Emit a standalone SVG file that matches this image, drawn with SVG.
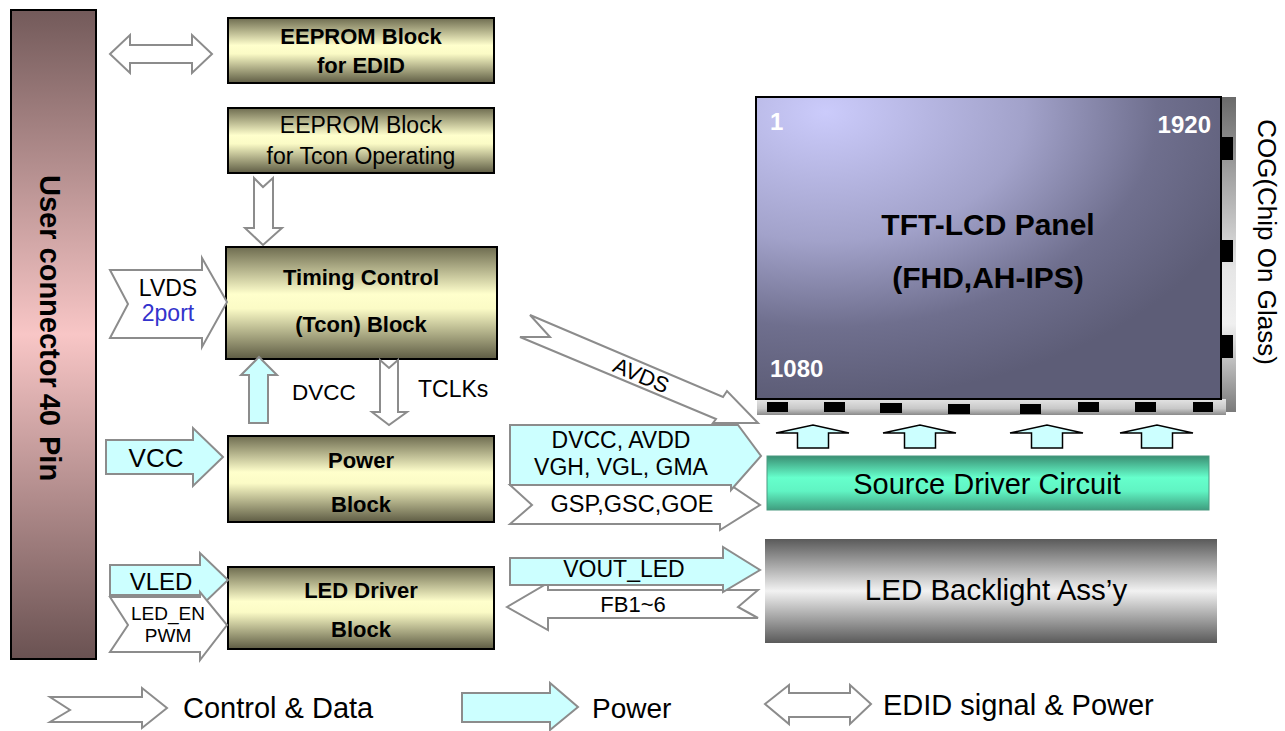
<svg xmlns="http://www.w3.org/2000/svg" width="1285" height="731" viewBox="0 0 1285 731">
<style>
.t{font-family:"Liberation Sans",Arial,sans-serif;fill:#000}
.b{font-weight:bold}
.m{text-anchor:middle}
.w{fill:#fff}
.ctl{fill:#fff;stroke:#8c8c8c;stroke-width:2;stroke-linejoin:miter}
.pwr{fill:#ccffff;stroke:#8c8c8c;stroke-width:2;stroke-linejoin:miter}
.blk{fill:url(#gBlk);stroke:#000;stroke-width:2}
.tab{fill:#000}
.up{fill:#ccffff;stroke:#000;stroke-width:1.5}
</style>
<defs>
<linearGradient id="gBlk" x1="0" y1="0" x2="0" y2="1">
<stop offset="0" stop-color="#6e6c50"/>
<stop offset="0.42" stop-color="#ffffcc"/>
<stop offset="0.55" stop-color="#fbfbc6"/>
<stop offset="1" stop-color="#5e5c44"/>
</linearGradient>
<linearGradient id="gUser" x1="0" y1="0" x2="0" y2="1">
<stop offset="0" stop-color="#735a5a"/>
<stop offset="0.5" stop-color="#f8c6c6"/>
<stop offset="1" stop-color="#6a5252"/>
</linearGradient>
<radialGradient id="gPanel" cx="0.15" cy="0.05" r="0.95">
<stop offset="0" stop-color="#cbcbfb"/>
<stop offset="0.45" stop-color="#a2a2ca"/>
<stop offset="0.75" stop-color="#6f6f8e"/>
<stop offset="1" stop-color="#5d5d77"/>
</radialGradient>
<linearGradient id="gCogR" x1="0" y1="0" x2="0" y2="1">
<stop offset="0" stop-color="#6a6a6a"/>
<stop offset="0.55" stop-color="#e6e6e6"/>
<stop offset="0.72" stop-color="#f0f0f0"/>
<stop offset="1" stop-color="#7a7a7a"/>
</linearGradient>
<linearGradient id="gCogB" x1="0" y1="0" x2="0" y2="1">
<stop offset="0" stop-color="#e4e4e4"/>
<stop offset="0.6" stop-color="#c8c8c8"/>
<stop offset="1" stop-color="#8a8a8a"/>
</linearGradient>
<linearGradient id="gSrc" x1="0" y1="0" x2="0" y2="1">
<stop offset="0" stop-color="#3a8f73"/>
<stop offset="0.4" stop-color="#66ffcc"/>
<stop offset="0.65" stop-color="#60f4c3"/>
<stop offset="1" stop-color="#3f9e7f"/>
</linearGradient>
<linearGradient id="gBL" x1="0" y1="0" x2="0" y2="1">
<stop offset="0" stop-color="#5a5a5a"/>
<stop offset="0.5" stop-color="#f2f2f2"/>
<stop offset="1" stop-color="#5a5a5a"/>
</linearGradient>
<polygon id="upArr" points="-15.5,448 -15.5,433 -37,433 0,425 36,433 15.5,433 15.5,448"/>
</defs>

<g id="user-connector">
<rect x="11" y="10" width="85" height="649" fill="url(#gUser)" stroke="#000" stroke-width="2"/>
<text class="t b" font-size="29" transform="translate(40,175) rotate(90)">User connector<tspan dx="6">40</tspan><tspan dx="10">Pin</tspan></text>
</g>

<g id="eeprom-edid">
<rect class="blk" x="228" y="18" width="266" height="65"/>
<text class="t b m" x="361" y="44" font-size="22">EEPROM Block</text>
<text class="t b m" x="361" y="73" font-size="22">for EDID</text>
</g>

<g id="eeprom-tcon">
<rect class="blk" x="228" y="108" width="266" height="65"/>
<text class="t m" x="361" y="133" font-size="23">EEPROM Block</text>
<text class="t m" x="361" y="164" font-size="23">for Tcon Operating</text>
</g>

<g id="tcon">
<rect class="blk" x="226" y="247" width="271" height="112"/>
<text class="t b m" x="361" y="285" font-size="22">Timing Control</text>
<text class="t b m" x="361" y="332" font-size="22">(Tcon) Block</text>
</g>

<g id="power-block">
<rect class="blk" x="228" y="436" width="266" height="86"/>
<text class="t b m" x="361" y="468" font-size="22">Power</text>
<text class="t b m" x="361" y="512" font-size="22">Block</text>
</g>

<g id="led-driver">
<rect class="blk" x="228" y="567" width="266" height="82"/>
<text class="t b m" x="361" y="598" font-size="22">LED Driver</text>
<text class="t b m" x="361" y="637" font-size="22">Block</text>
</g>

<g id="panel">
<rect x="1221" y="97" width="15" height="315" fill="url(#gCogR)"/>
<rect class="tab" x="1221" y="137" width="12" height="23"/>
<rect class="tab" x="1221" y="240" width="12" height="22"/>
<rect class="tab" x="1221" y="335" width="12" height="23"/>
<rect x="757" y="399" width="469" height="16" fill="url(#gCogB)"/>
<rect class="tab" x="767" y="402" width="21" height="10"/>
<rect class="tab" x="824" y="402" width="21" height="10"/>
<rect class="tab" x="880" y="403" width="22" height="10"/>
<rect class="tab" x="948" y="404" width="22" height="10"/>
<rect class="tab" x="1020" y="404" width="21" height="10"/>
<rect class="tab" x="1078" y="402" width="21" height="10"/>
<rect class="tab" x="1135" y="402" width="21" height="10"/>
<rect class="tab" x="1193" y="402" width="20" height="10"/>
<rect x="756" y="97" width="465" height="302" fill="url(#gPanel)" stroke="#000" stroke-width="2"/>
<text class="t b w" x="770" y="130" font-size="24">1</text>
<text class="t b w" x="1211" y="133" font-size="24" text-anchor="end">1920</text>
<text class="t b w" x="770" y="377" font-size="24">1080</text>
<text class="t b m" x="988" y="235" font-size="30">TFT-LCD Panel</text>
<text class="t b m" x="988" y="288" font-size="30">(FHD,AH-IPS)</text>
<text class="t m" font-size="26" transform="translate(1258,242) rotate(90)">COG(Chip On Glass)</text>
</g>

<g id="source-driver">
<rect x="767" y="456" width="442" height="54" fill="url(#gSrc)" stroke="#4a9a80" stroke-width="1"/>
<text class="t m" x="987" y="494" font-size="29">Source Driver Circuit</text>
</g>

<g id="backlight">
<rect x="765" y="539" width="452" height="104" fill="url(#gBL)"/>
<text class="t m" x="996" y="600" font-size="29.5">LED Backlight Ass’y</text>
</g>

<g id="connectors">
<polygon class="ctl" points="110,54 130,35 130,45 192,45 192,35 212,54 192,73 192,63 130,63 130,73"/>
<polygon class="ctl" points="254,178 263,187 273,178 273,228 282,228 263,245 245,228 254,228"/>
<polygon class="ctl" points="110,270 202,270 202,258 227,302 202,347 202,338 110,338 128,304"/>
<text class="t m" x="168" y="296" font-size="23">LVDS</text>
<text class="t m" x="168" y="321" font-size="23" style="fill:#3333cc">2port</text>
<polygon class="pwr" points="249,423 249,375 241,375 259,357 277,375 268,375 268,423"/>
<text class="t" x="292" y="400" font-size="22.5">DVCC</text>
<polygon class="ctl" points="380,360 389,368 398,360 398,412 407,412 389,425 372,412 380,412"/>
<text class="t" x="418" y="397" font-size="23">TCLKs</text>
<polygon class="pwr" points="106,440 193,440 193,428 223,457 193,486 193,474 106,474"/>
<text class="t m" x="156" y="467" font-size="26">VCC</text>
<polygon class="pwr" points="110,565 200,565 200,553 228,580 200,607 200,595 110,595"/>
<text class="t m" x="161" y="590" font-size="24">VLED</text>
<polygon class="ctl" points="110,597 200,597 200,592 227,625 200,660 200,652 110,652 128,625"/>
<text class="t m" x="168" y="620" font-size="19">LED_EN</text>
<text class="t m" x="168" y="642" font-size="19">PWM</text>

<polygon class="ctl" points="530,315 723,397 727,391 758,423 713,423 716,419 520,337 550,337"/>
<text class="t m" font-size="22" transform="translate(641,376) rotate(23)" y="7">AVDS</text>
<polygon class="ctl" points="510,485 720,485 720,478 760,505 720,530 720,524 510,524 532,505"/>
<text class="t m" x="632" y="512" font-size="23.5">GSP,GSC,GOE</text>
<polygon class="pwr" points="510,425 738,425 761,456 731,490 731,485 510,485"/>
<text class="t m" x="621" y="448" font-size="23">DVCC, AVDD</text>
<text class="t m" x="621" y="475" font-size="23">VGH, VGL, GMA</text>

<polygon class="ctl" points="507,607 548,583 548,590 758,590 738,607 758,618 548,618 548,630"/>
<text class="t m" x="633" y="612" font-size="22">FB1~6</text>
<polygon class="pwr" points="510,558 723,558 723,547 760,570 723,592 723,585 510,585"/>
<text class="t m" x="624" y="577" font-size="23">VOUT_LED</text>

<use href="#upArr" class="up" transform="translate(813,0)"/>
<use href="#upArr" class="up" transform="translate(920,0)"/>
<use href="#upArr" class="up" transform="translate(1047,0)"/>
<use href="#upArr" class="up" transform="translate(1157,0)"/>
</g>

<g id="legend">
<polygon class="ctl" points="50,697 142,697 142,688 167,708 142,728 142,722 50,722 70,710"/>
<text class="t" x="183" y="718" font-size="29">Control &amp; Data</text>
<polygon class="pwr" points="462,693 550,693 550,683 578,707 550,730 550,722 462,722"/>
<text class="t" x="592" y="718" font-size="28">Power</text>
<polygon class="ctl" points="765,704 789,685 789,693 850,693 850,685 871,704 850,724 850,717 789,717 789,724"/>
<text class="t" x="883" y="715" font-size="29">EDID signal &amp; Power</text>
</g>
</svg>
